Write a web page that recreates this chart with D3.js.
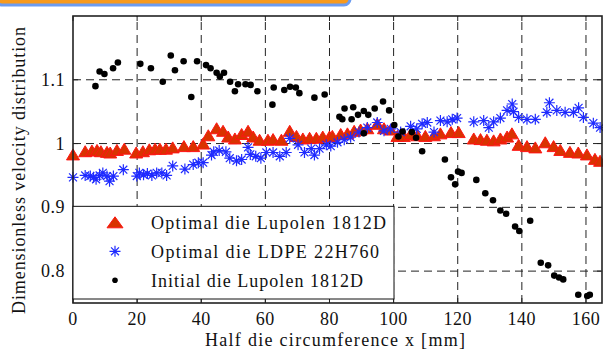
<!DOCTYPE html>
<html>
<head>
<meta charset="utf-8">
<script src="https://cdn.jsdelivr.net/npm/d3@7"></script>
<style>
  body { margin: 0; background: #fff; }
  svg text { font-family: "Liberation Serif", Tinos, "Times New Roman", Times, serif; fill: #111; }
</style>
</head>
<body>
<div id="root"></div>
<script>
// ticks
const xTicks = [0, 20, 40, 60, 80, 100, 120, 140, 160];
const yTicks = [0.8, 0.9, 1, 1.1];

// Optimal die Lupolen 1812D (red triangles)
const optLupX = [0, 3.8, 5.9, 7.5, 8.7, 10.6, 11.6, 13.7, 16.0, 19.7, 21.8, 23.8, 25.6, 27.1, 29.0, 31.1, 34.6, 37.5,
  40.6, 42.2, 44.8, 46.8, 48.4, 50.5, 52.6, 54.6, 56.2, 58.2, 60.8, 62.4, 65.0, 67.6, 69.7, 71.7, 73.8, 75.9, 77.9,
  80.0, 80.9, 83.5, 85.6, 87.7, 89.7, 91.8, 94.9, 97.0, 99.1, 101.2, 103.2, 105.3, 107.4, 109.9, 112.6, 114.6, 117.9,
  120.3, 125.0, 127.1, 129.1, 131.2, 133.3, 135.4, 136.9, 139.0, 141.6, 144.2, 147.3, 149.9, 152.0, 155.0, 157.6,
  160.3, 162.8, 164.4];
const optLupY = [0.983, 0.988, 0.989, 0.990, 0.988, 0.987, 0.986, 0.990, 0.992, 0.986, 0.988, 0.991, 0.992, 0.992, 0.992, 0.994, 0.996, 0.996,
  1.000, 1.013, 1.024, 1.020, 1.011, 1.008, 1.015, 1.020, 1.011, 1.006, 1.006, 1.007, 1.006, 1.020, 1.012, 1.008, 1.009, 1.009, 1.011,
  1.011, 1.012, 1.015, 1.016, 1.020, 1.022, 1.024, 1.031, 1.024, 1.022, 1.012, 1.012, 1.015, 1.013, 1.012, 1.013, 1.016, 1.018,
  1.018, 1.008, 1.007, 1.006, 1.005, 1.008, 1.011, 1.016, 0.998, 0.996, 0.994, 1.002, 0.996, 0.990, 0.987, 0.986,
  0.983, 0.976, 0.973];

// Optimal die LDPE 22H760 (blue asterisks)
const optLdpeX = [0, 3.8, 5.4, 6.4, 7.2, 8.3, 9.3, 10.6, 11.4, 12.6, 15.7, 19.9, 20.7, 22.0, 23.2, 24.6, 26.1, 27.7, 29.2,
  31.1, 34.9, 37.5, 39.1, 40.6, 43.2, 43.9, 45.6, 47.7, 48.9, 51.0, 52.6, 54.6, 55.3, 57.0, 58.6, 60.3, 62.4, 64.5, 66.5,
  67.6, 70.2, 72.2, 74.3, 75.3, 76.9, 79.0, 80.4, 82.5, 84.6, 86.6, 89.2, 91.8, 94.9, 97.0, 99.1, 102.2, 105.3, 107.2,
  108.9, 110.5, 112.6, 114.6, 116.7, 118.3, 119.8, 125.0, 128.1, 129.7, 131.2, 133.3, 135.4, 137.0, 137.4, 139.0, 141.6,
  144.2, 147.8, 148.6, 150.9, 153.5, 156.1, 157.7, 159.2, 162.3, 164.4];
const optLdpeY = [0.947, 0.950, 0.949, 0.947, 0.944, 0.950, 0.954, 0.949, 0.941, 0.949, 0.959, 0.949, 0.954, 0.951, 0.953, 0.950, 0.954, 0.954, 0.950,
  0.965, 0.960, 0.967, 0.970, 0.970, 0.982, 0.987, 0.989, 0.987, 0.977, 0.973, 0.975, 0.994, 0.983, 0.980, 0.977, 0.986, 0.986, 0.980, 0.986,
  1.008, 0.998, 0.986, 0.992, 0.982, 0.992, 0.998, 0.996, 1.002, 1.006, 1.010, 1.018, 1.025, 1.033, 1.020, 1.023, 1.018, 1.027, 1.023,
  1.031, 1.033, 1.018, 1.036, 1.034, 1.038, 1.040, 1.034, 1.036, 1.025, 1.034, 1.040, 1.052, 1.062, 1.050, 1.041, 1.038,
  1.038, 1.049, 1.064, 1.052, 1.049, 1.049, 1.056, 1.041, 1.032, 1.025];

// Initial die Lupolen 1812D (black dots)
const initLupX = [7.0, 8.3, 9.8, 12.5, 14.0, 21.0, 24.3, 28.0, 30.5, 31.8, 34.5, 36.9, 38.7, 41.5, 42.9, 44.8, 45.8, 47.1,
  49.0, 50.5, 51.5, 53.8, 55.4, 57.5, 62.2, 62.6, 65.9, 67.7, 69.5, 70.6, 75.3, 78.5, 83.1, 84.0, 84.7, 86.9, 87.4,
  88.9, 90.7, 90.7, 92.1, 94.1, 96.7, 98.6, 100.2, 101.5, 102.8, 105.7, 107.0, 108.9, 116.0, 117.9, 119.2, 120.1,
  121.2, 125.8, 128.6, 131.0, 133.3, 135.1, 137.9, 139.2, 142.6, 145.9, 148.2, 150.1, 151.6, 152.9, 157.6, 160.4, 161.2];
const initLupY = [1.090, 1.113, 1.109, 1.118, 1.127, 1.125, 1.118, 1.097, 1.138, 1.115, 1.129, 1.073, 1.129, 1.123, 1.118, 1.111, 1.105, 1.111,
  1.097, 1.082, 1.093, 1.093, 1.092, 1.082, 1.061, 1.088, 1.084, 1.089, 1.088, 1.079, 1.072, 1.077, 1.042, 1.038, 1.055, 1.038, 1.057,
  1.045, 1.051, 1.016, 1.045, 1.055, 1.066, 1.052, 1.029, 1.011, 1.019, 1.018, 1.009, 0.988, 0.975, 0.947, 0.936, 0.956,
  0.954, 0.943, 0.922, 0.911, 0.895, 0.890, 0.870, 0.863, 0.879, 0.813, 0.809, 0.793, 0.790, 0.787, 0.763, 0.761, 0.763];

const legendLabels = ["Optimal die Lupolen 1812D", "Optimal die LDPE 22H760", "Initial die Lupolen 1812D"];
const legendWidths = [235, 228, 212];

const W = 603, H = 350;
const margin = { top: 16, right: 1, bottom: 47, left: 73 };
const width = W - margin.left - margin.right,
  height = H - margin.top - margin.bottom;
const FONT = "'Liberation Serif', Tinos, 'Times New Roman', Times, serif";

const svg = d3.select("#root").append("svg")
  .attr("width", W)
  .attr("height", H)
  .attr("font-family", FONT);

// little tab strip at top-left of the screenshot
svg.append("rect")
  .attr("x", -4).attr("y", -14)
  .attr("width", 354).attr("height", 19)
  .attr("rx", 6)
  .attr("fill", "#f89a1c")
  .attr("stroke", "#6c9cf0")
  .attr("stroke-width", 3);

const g = svg.append("g")
  .attr("transform", `translate(${margin.left},${margin.top})`);

const x = d3.scaleLinear().domain([0, 165]).range([0, width]);
const y = d3.scaleLinear().domain([0.75, 1.2]).range([height, 0]);

// grid
g.append("g").selectAll("line").data(xTicks.filter(d => d > 0)).enter().append("line")
  .attr("x1", d => x(d)).attr("x2", d => x(d))
  .attr("y1", height).attr("y2", 0)
  .attr("stroke", "#222").attr("stroke-dasharray", "8,5");
g.append("g").selectAll("line").data(yTicks).enter().append("line")
  .attr("x1", 0).attr("x2", width)
  .attr("y1", d => y(d)).attr("y2", d => y(d))
  .attr("stroke", "#222").attr("stroke-dasharray", "8,5");

// markers
const tri = (w, h) => `M0,${-h / 2}L${w / 2},${h / 2}L${-w / 2},${h / 2}Z`;
const star = r => {
  const s = r * 0.72;
  return `M0,${-r}V${r}M${-r},0H${r}M${-s},${-s}L${s},${s}M${-s},${s}L${s},${-s}`;
};

g.append("g").selectAll("path").data(optLupX).enter().append("path")
  .attr("d", tri(13, 11))
  .attr("transform", (d, i) => `translate(${x(d)},${y(optLupY[i])})`)
  .attr("fill", "#d93300").attr("stroke", "#ff1414").attr("stroke-width", 1);

g.append("g").selectAll("path").data(optLdpeX).enter().append("path")
  .attr("d", star(5.5))
  .attr("transform", (d, i) => `translate(${x(d)},${y(optLdpeY[i])})`)
  .attr("fill", "none").attr("stroke", "#1f2bff").attr("stroke-width", 1.2);

g.append("g").selectAll("circle").data(initLupX).enter().append("circle")
  .attr("cx", d => x(d))
  .attr("cy", (d, i) => y(initLupY[i]))
  .attr("r", 3.3)
  .attr("fill", "#000");

// frame + inward ticks
g.append("rect").attr("width", width).attr("height", height)
  .attr("fill", "none").attr("stroke", "#222").attr("stroke-width", 1.6);
const tk = g.append("g").attr("stroke", "#222");
xTicks.forEach(t => {
  tk.append("line").attr("x1", x(t)).attr("x2", x(t)).attr("y1", height).attr("y2", height - 5);
  tk.append("line").attr("x1", x(t)).attr("x2", x(t)).attr("y1", 0).attr("y2", 5);
});
yTicks.forEach(t => {
  tk.append("line").attr("x1", 0).attr("x2", 5).attr("y1", y(t)).attr("y2", y(t));
  tk.append("line").attr("x1", width).attr("x2", width - 5).attr("y1", y(t)).attr("y2", y(t));
});

// tick labels
g.append("g").selectAll("text").data(xTicks).enter().append("text")
  .attr("x", d => x(d)).attr("y", height + 22)
  .attr("text-anchor", "middle")
  .attr("font-size", 18).attr("letter-spacing", 0.5)
  .text(d => d);
g.append("g").selectAll("text").data(yTicks).enter().append("text")
  .attr("x", -8).attr("y", d => y(d) + 6)
  .attr("text-anchor", "end")
  .attr("font-size", 18).attr("letter-spacing", 0.5)
  .text(d => d);

// axis labels
svg.append("text")
  .attr("x", 205).attr("y", 346)
  .attr("font-size", 18)
  .attr("textLength", 260).attr("lengthAdjust", "spacing")
  .text("Half die circumference x [mm]");
svg.append("text")
  .attr("transform", "translate(25,314) rotate(-90)")
  .attr("font-size", 18)
  .attr("textLength", 287).attr("lengthAdjust", "spacing")
  .text("Dimensionless velocity distribution");

// legend
const lg = g.append("g");
const lgTop = y(0.9) - 1, lgBottom = height - 4;
lg.append("rect")
  .attr("x", 0).attr("y", lgTop)
  .attr("width", 321).attr("height", lgBottom - lgTop)
  .attr("fill", "#fff").attr("stroke", "#111").attr("stroke-width", 1);
const rowY = [229.3, 258.3, 287.3].map(v => v - margin.top);
lg.append("path").attr("d", tri(16, 11))
  .attr("transform", `translate(${115 - margin.left},${rowY[0] - 7})`)
  .attr("fill", "#d93300").attr("stroke", "#ff1414");
lg.append("path").attr("d", star(5.5))
  .attr("transform", `translate(${115 - margin.left},${rowY[1] - 7})`)
  .attr("fill", "none").attr("stroke", "#1f2bff").attr("stroke-width", 1.2);
lg.append("circle")
  .attr("cx", 115 - margin.left).attr("cy", rowY[2] - 7).attr("r", 2.8)
  .attr("fill", "#000");
lg.selectAll("text.lab").data(legendLabels).enter().append("text")
  .attr("class", "lab")
  .attr("x", 151 - margin.left).attr("y", (d, i) => rowY[i])
  .attr("font-size", 18)
  .attr("textLength", (d, i) => legendWidths[i]).attr("lengthAdjust", "spacing")
  .text(d => d);
</script>
</body>
</html>
